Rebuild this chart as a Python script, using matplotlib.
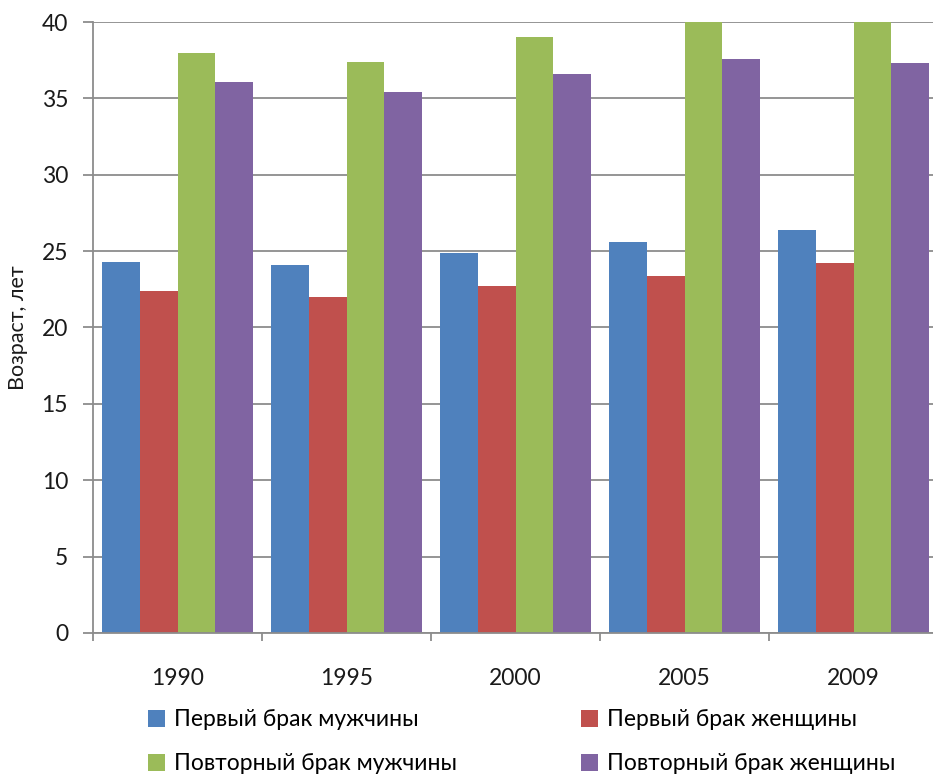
import numpy as np
import matplotlib.pyplot as plt
from matplotlib.patches import Patch

plt.rcParams['font.family'] = ['Lato', 'DejaVu Sans']

years = ['1990', '1995', '2000', '2005', '2009']
first_men = [24.3, 24.1, 24.9, 25.6, 26.4]
first_women = [22.4, 22.0, 22.7, 23.4, 24.2]
repeat_men = [38.0, 37.4, 39.0, 40.4, 40.8]
repeat_women = [36.1, 35.4, 36.6, 37.6, 37.3]

series = [
    ('Первый брак мужчины', first_men, '#4F81BD'),
    ('Первый брак женщины', first_women, '#C0504D'),
    ('Повторный брак мужчины', repeat_men, '#9BBB59'),
    ('Повторный брак женщины', repeat_women, '#8064A2'),
]

fig = plt.figure(figsize=(9.33, 7.78), dpi=100)
ax = fig.add_axes([0.0997, 0.1864, 0.9057, 0.7853])

x = np.arange(len(years))
w = 0.222
for i, (name, vals, col) in enumerate(series):
    ax.bar(x + (i - 1.5) * w, vals, width=w, color=col, zorder=2, linewidth=0)

ax.set_ylim(0, 40)
ax.set_xlim(-0.5, len(years) - 0.5)
ax.set_yticks(range(0, 41, 5))
ax.yaxis.grid(True, color='#8c8c8c', linewidth=1.3, zorder=0)
ax.set_axisbelow(True)

ax.set_xticks(np.arange(-0.5, len(years), 1.0))
ax.set_xticklabels([])
ax.set_xticks(x, minor=True)
ax.set_xticklabels(years, minor=True)
ax.tick_params(axis='x', which='major', length=6, width=1.3, color='#8c8c8c', direction='out')
ax.tick_params(axis='x', which='minor', length=0, pad=25, labelsize=16.5, labelcolor='#1a1a1a')
ax.tick_params(axis='y', length=7, width=1.3, color='#8c8c8c', pad=11, labelsize=16.5, labelcolor='#1a1a1a')

for s in ['top', 'right']:
    ax.spines[s].set_visible(False)
for s in ['left', 'bottom']:
    ax.spines[s].set_color('#8c8c8c')
    ax.spines[s].set_linewidth(1.3)

ax.set_ylabel('Возраст, лет', fontsize=15.5, color='#1a1a1a', labelpad=10)

# legend: row 1 -> first marriage, row 2 -> repeat marriage
order = [0, 2, 1, 3]
handles = [Patch(facecolor=series[k][2], edgecolor='none') for k in order]
labels = [series[k][0] for k in order]
fig.legend(handles, labels, ncol=2, loc='upper left', bbox_to_anchor=(0.146, 0.103),
           frameon=False, fontsize=16.5, handlelength=0.75, handleheight=0.75,
           handletextpad=0.4, columnspacing=5.4, labelspacing=1.0, borderpad=0)

fig.savefig('out.png', dpi=100)
